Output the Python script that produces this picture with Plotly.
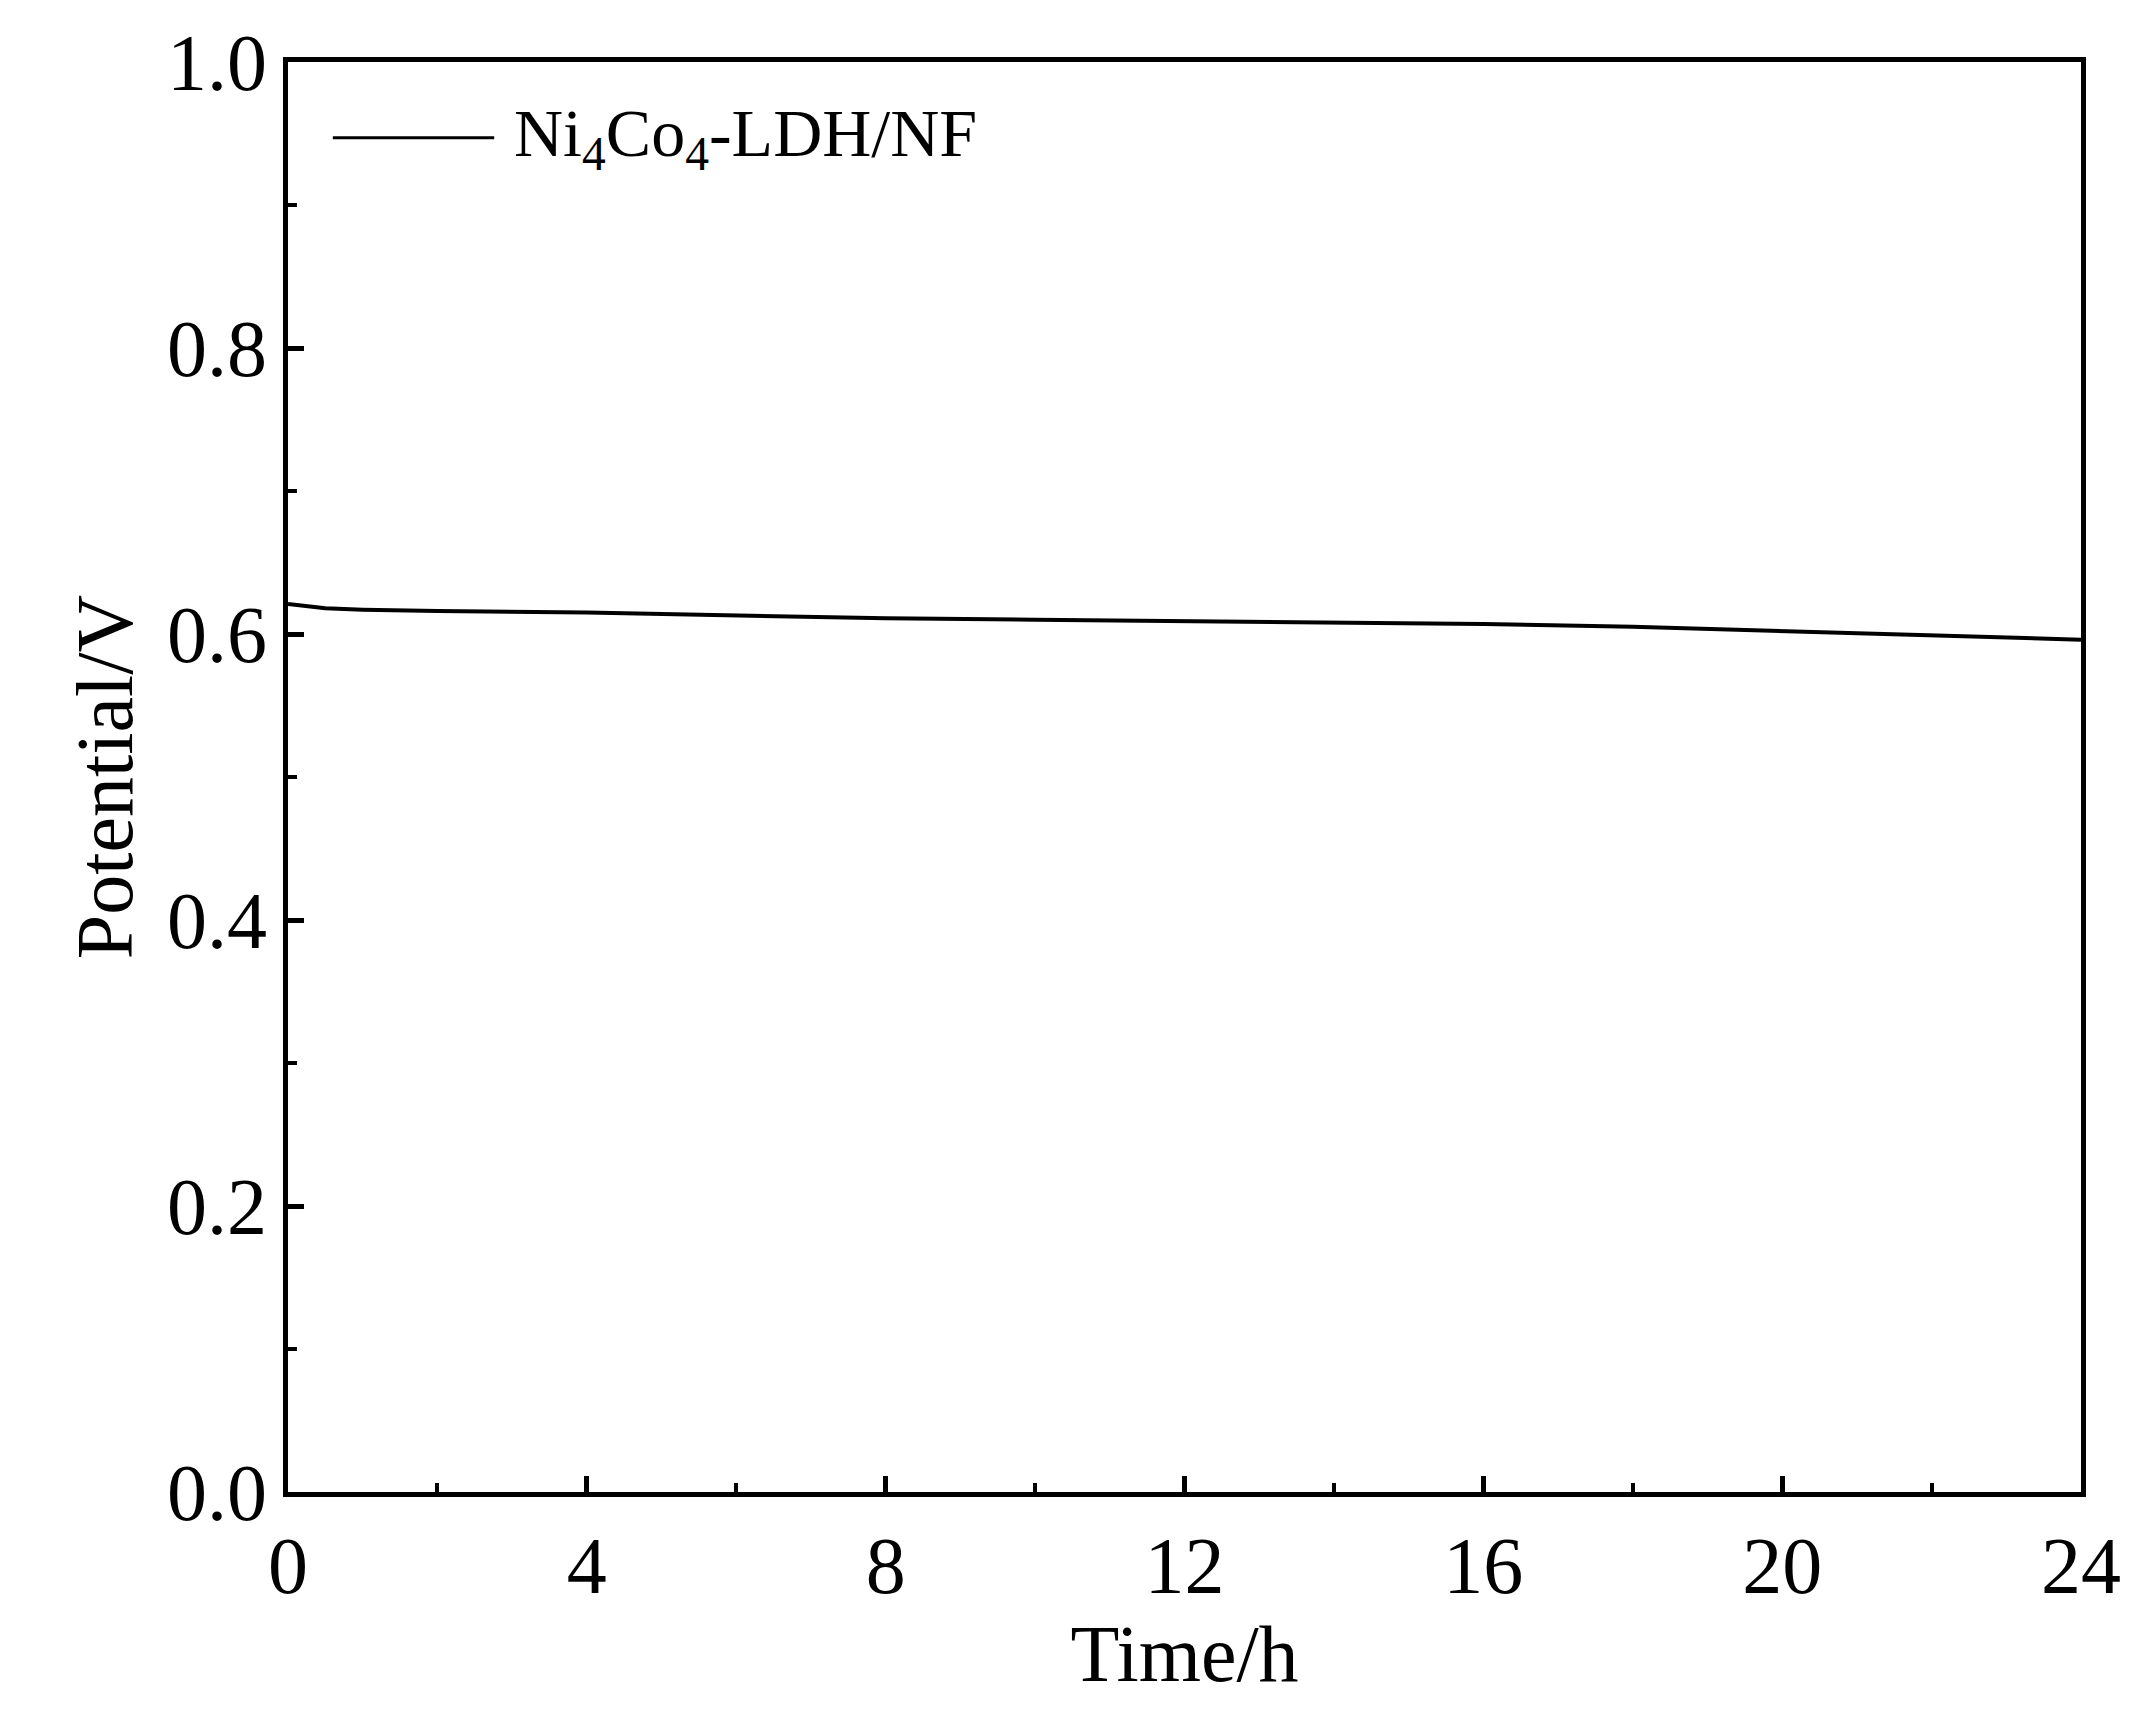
import plotly.graph_objects as go

time_h = [0, 0.5, 1, 2, 4, 6, 8, 10, 12, 14, 16, 18, 20, 22, 24]
potential_v = [0.621, 0.618, 0.617, 0.616, 0.615, 0.613, 0.611, 0.610, 0.609, 0.608, 0.607, 0.605, 0.602, 0.599, 0.596]
series_name = "Ni<sub>4</sub>Co<sub>4</sub>-LDH/NF"

font = "Liberation Serif"
fig = go.Figure()
fig.add_trace(go.Scatter(x=time_h, y=potential_v, mode="lines",
                         line=dict(color="black", width=4), showlegend=False))

fig.add_shape(type="line", xref="paper", yref="paper", x0=0.025, x1=0.115, y0=0.947, y1=0.947,
              line=dict(color="black", width=3))
fig.add_annotation(xref="paper", yref="paper", x=0.125, y=0.947, xanchor="left", yanchor="middle",
                   text=series_name, showarrow=False, font=dict(family=font, size=68, color="black"))

axis_common = dict(showline=True, linewidth=5, linecolor="black", mirror=True,
                   ticks="inside", ticklen=16, tickwidth=5, tickcolor="black",
                   showgrid=False, zeroline=False,
                   tickfont=dict(family=font, size=80, color="black"),
                   title_font=dict(family=font, size=80, color="black"))
fig.update_xaxes(range=[0, 24], tickvals=[0, 4, 8, 12, 16, 20, 24],
                 minor=dict(tickvals=[2, 6, 10, 14, 18, 22], ticks="inside", ticklen=9, tickwidth=4, tickcolor="black"),
                 title_text="Time/h", title_standoff=2, **axis_common)
fig.update_yaxes(range=[0, 1.0], tickvals=[0, 0.2, 0.4, 0.6, 0.8, 1.0], tickformat=".1f",
                 minor=dict(tickvals=[0.1, 0.3, 0.5, 0.7, 0.9], ticks="inside", ticklen=9, tickwidth=4, tickcolor="black"),
                 title_text="Potential/V", title_standoff=10, **axis_common)
fig.update_layout(width=2143, height=1729, plot_bgcolor="white", paper_bgcolor="white",
                  margin=dict(l=280, r=70, t=54, b=245))
fig.write_html("out.html")
